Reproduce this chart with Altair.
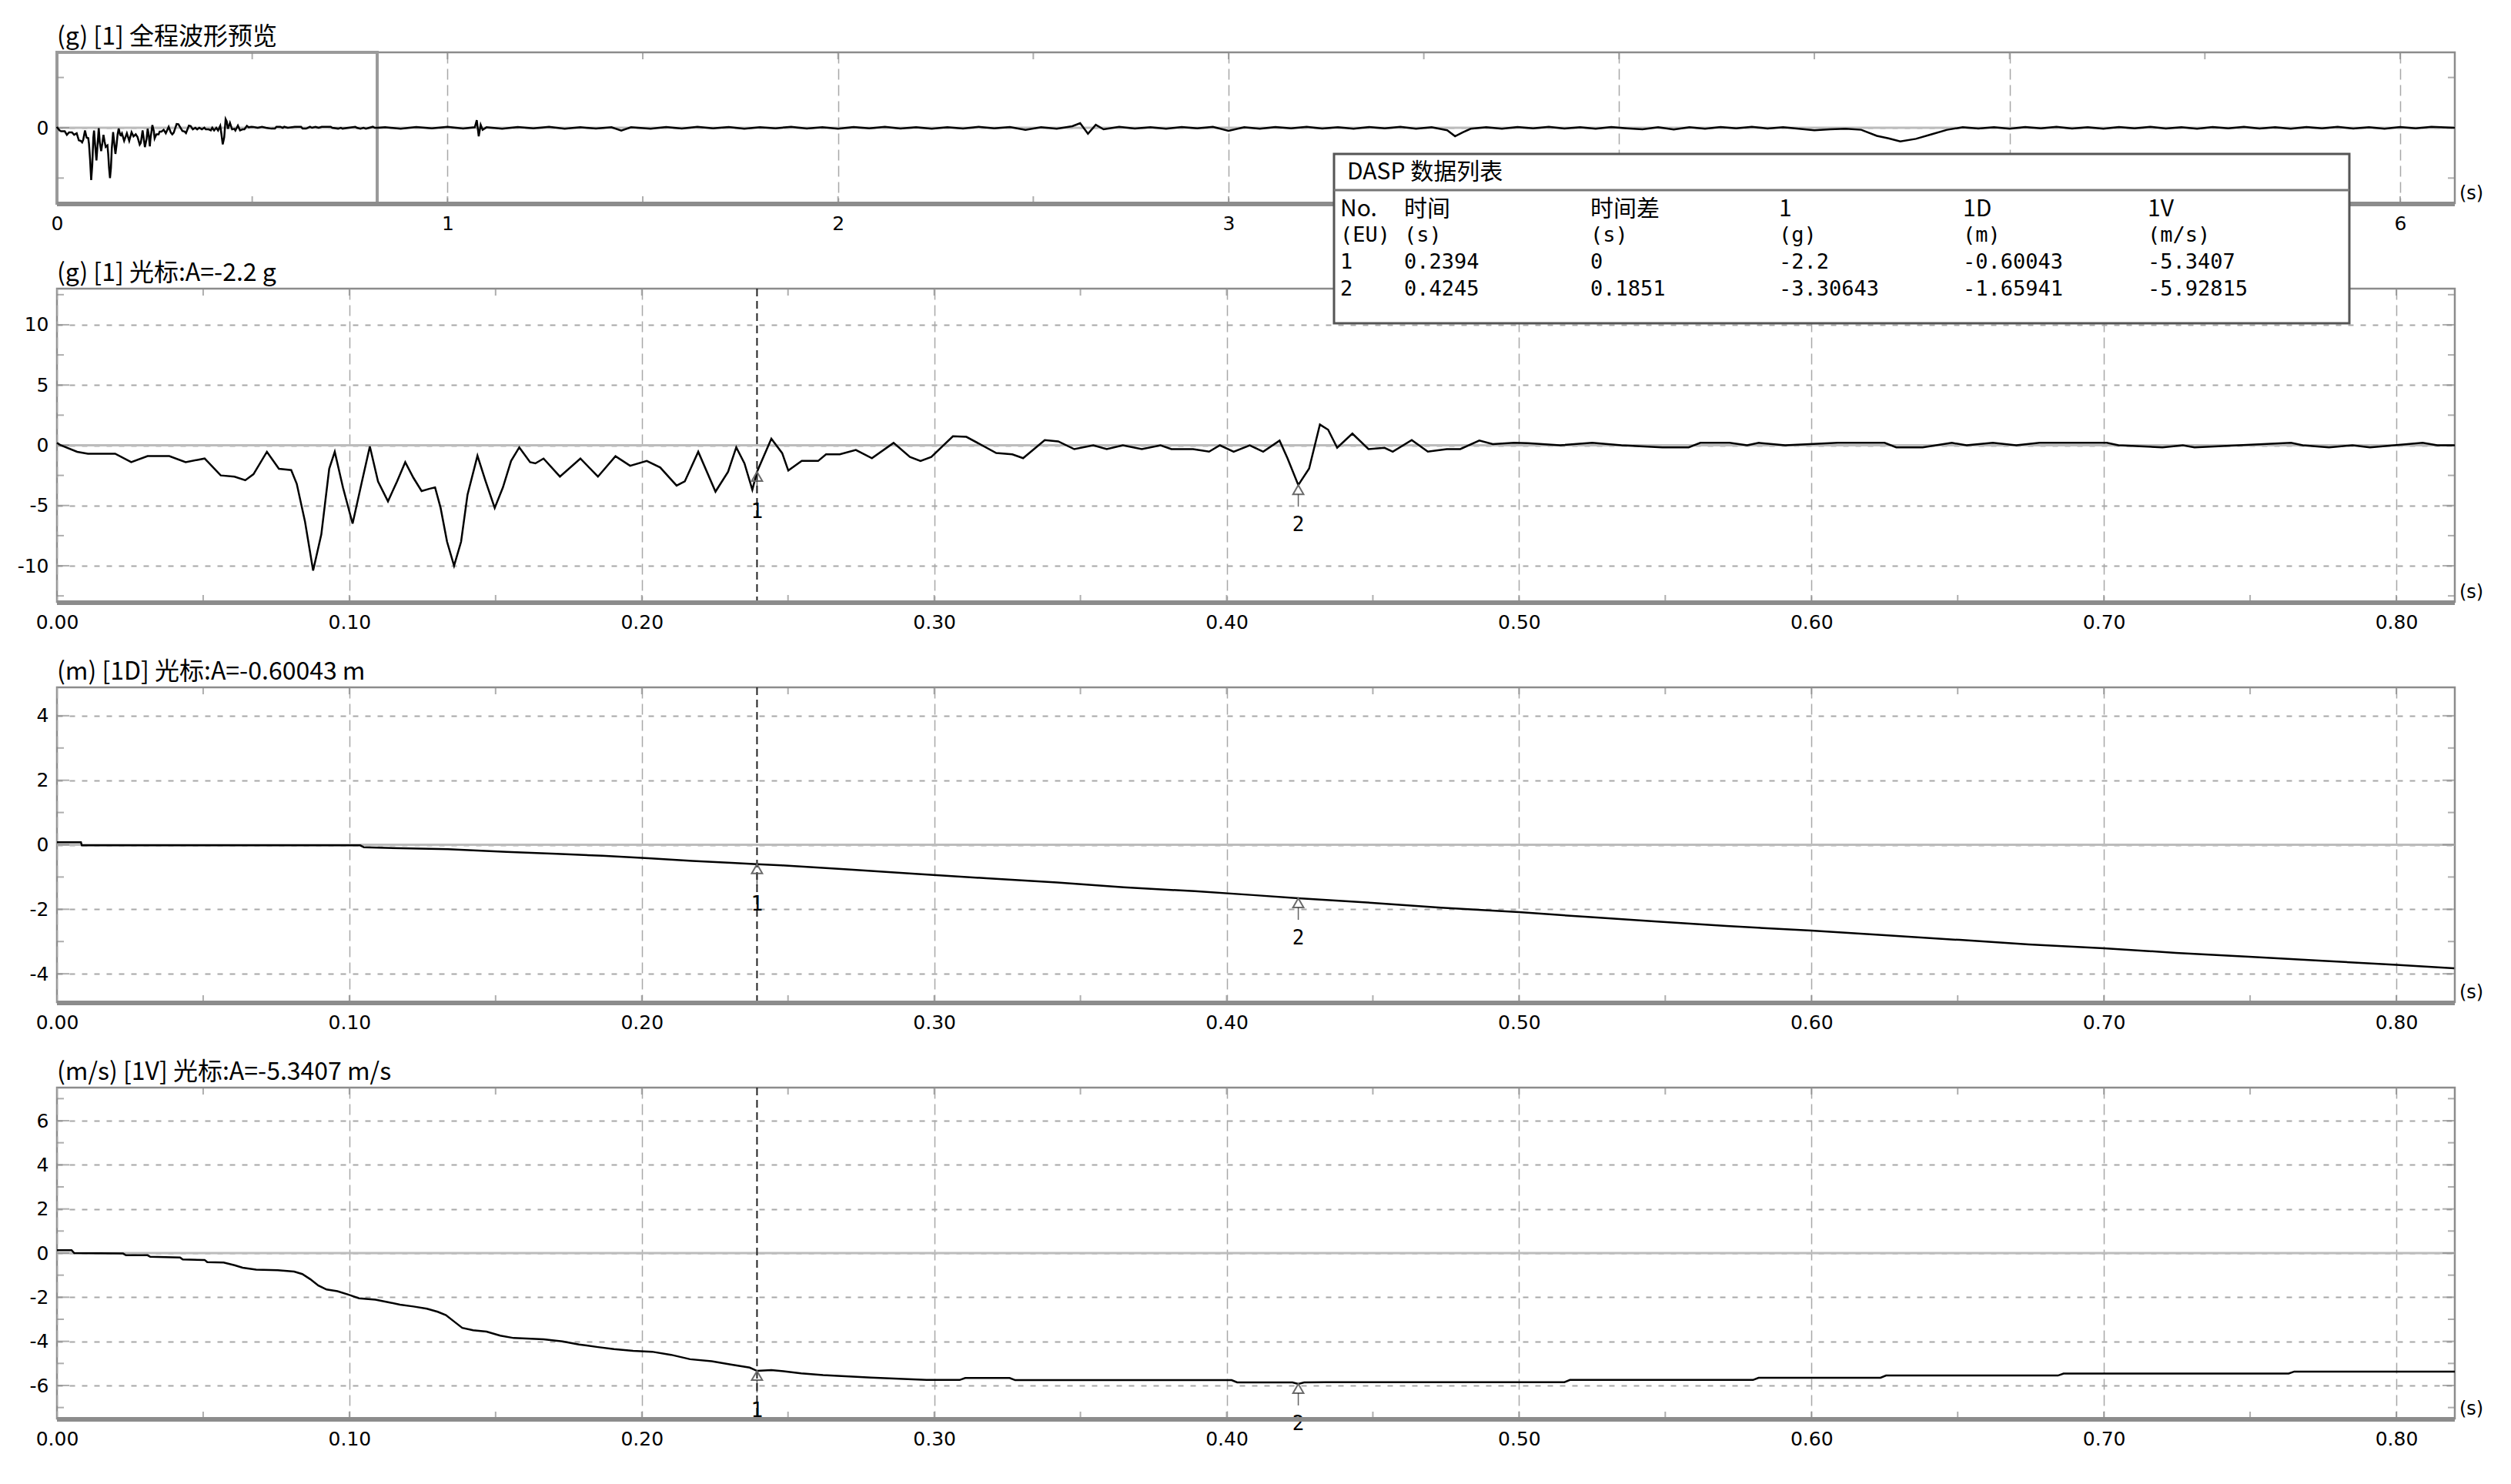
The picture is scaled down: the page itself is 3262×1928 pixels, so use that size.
import altair as alt
import pandas as pd

# ---------------- data ----------------
acc_t = [0.0, 0.0013, 0.0069, 0.0106, 0.0199, 0.0254, 0.031, 0.0384, 0.044, 0.0505, 0.056, 0.0607, 0.0644,
         0.0672, 0.0718, 0.0759, 0.0801, 0.082, 0.0848, 0.0876, 0.0904, 0.0931, 0.095, 0.0978, 0.1011, 0.1043,
         0.107, 0.1098, 0.1132, 0.1163, 0.1191, 0.1219, 0.1247, 0.1275, 0.1293, 0.1312, 0.1334, 0.1358, 0.1382,
         0.1404, 0.1438, 0.1466, 0.1497, 0.1525, 0.1553, 0.1581, 0.1618, 0.1636, 0.1664, 0.172, 0.179, 0.185,
         0.191, 0.196, 0.2017, 0.2063, 0.2119, 0.2147, 0.2193, 0.2252, 0.2295, 0.2323, 0.2351, 0.2378, 0.2394,
         0.2443, 0.248, 0.2501, 0.2547, 0.2603, 0.263, 0.2677, 0.2732, 0.2787, 0.2861, 0.2917, 0.2953, 0.299,
         0.3064, 0.311, 0.3212, 0.3267, 0.3304, 0.3378, 0.3424, 0.3479, 0.3544, 0.359, 0.3645, 0.371, 0.3774,
         0.3811, 0.3885, 0.394, 0.3977, 0.4024, 0.4079, 0.4125, 0.4181, 0.4208, 0.4245, 0.4282, 0.4319, 0.4347,
         0.4378, 0.443, 0.4485, 0.454, 0.4568, 0.4633, 0.4688, 0.4753, 0.4799, 0.4864, 0.491, 0.4983, 0.503,
         0.514, 0.525, 0.535, 0.549, 0.558, 0.562, 0.572, 0.578, 0.582, 0.591, 0.609, 0.625, 0.629, 0.638,
         0.648, 0.653, 0.662, 0.67, 0.678, 0.701, 0.705, 0.72, 0.727, 0.731, 0.764, 0.768, 0.777, 0.785,
         0.791, 0.809, 0.814, 0.82]
acc_v = [0.2, 0.0, -0.54, -0.7, -0.7, -1.4, -0.9, -0.9, -1.4, -1.1, -2.5, -2.6, -2.9,
         -2.4, -0.54, -1.95, -2.06, -3.2, -6.3, -10.4, -7.4, -1.95, -0.54, -3.5, -6.5, -3.0,
         -0.1, -3.0, -4.65, -3.0, -1.4, -2.7, -3.8, -3.6, -3.5, -5.2, -8.0, -10.0, -8.0,
         -4.1, -0.87, -3.0, -5.2, -3.5, -1.3, -0.17, -1.4, -1.5, -1.1, -2.6, -1.1, -2.6,
         -0.9, -1.7, -1.3, -1.84, -3.35, -3.0, -0.54, -3.85, -2.2, -0.17, -1.5, -3.7, -2.2,
         0.54, -0.65, -2.1, -1.3, -1.3, -0.75, -0.75, -0.39, -1.07, 0.2, -0.97, -1.3, -0.97,
         0.75, 0.7, -0.64, -0.75, -1.07, 0.43, 0.32, -0.32, 0.0, -0.32, 0.0, -0.32, 0.0,
         -0.32, -0.32, -0.53, 0.0, -0.53, 0.0, -0.53, 0.39, -1.07, -3.3, -1.93, 1.72, 1.29,
         -0.21, 0.97, -0.32, -0.21, -0.53, 0.43, -0.53, -0.32, -0.32, 0.39, 0.1, 0.2, 0.17,
         0.0, 0.2, 0.0, -0.17, -0.17, 0.2, 0.2, 0.0, 0.2, 0.0, 0.2, 0.2, -0.17, -0.17,
         0.2, 0.0, 0.2, 0.0, 0.2, 0.2, 0.0, -0.17, 0.0, -0.17, 0.2, 0.0, -0.17, 0.0,
         -0.17, 0.2, 0.0, 0.0]

prev_tail_t = [0.84, 0.88, 0.92, 0.96, 1.00, 1.04, 1.07, 1.075, 1.08, 1.085, 1.09, 1.10, 1.14, 1.18, 1.22,
               1.26, 1.30, 1.34, 1.38, 1.42, 1.445, 1.47, 1.52, 1.56, 1.60, 1.64, 1.68, 1.72, 1.76, 1.80,
               1.84, 1.88, 1.92, 1.96, 2.00, 2.04, 2.08, 2.12, 2.16, 2.20, 2.24, 2.28, 2.32, 2.36, 2.40,
               2.44, 2.48, 2.52, 2.56, 2.60, 2.62, 2.64, 2.66, 2.68, 2.72, 2.76, 2.80, 2.84, 2.88, 2.92,
               2.96, 3.00, 3.04, 3.08, 3.12, 3.16, 3.20, 3.24, 3.28, 3.32, 3.36, 3.40, 3.44, 3.48, 3.52,
               3.56, 3.58, 3.60, 3.62, 3.66, 3.70, 3.74, 3.78, 3.82, 3.86, 3.90, 3.94, 3.98, 4.02, 4.06,
               4.10, 4.14, 4.18, 4.22, 4.26, 4.30, 4.34, 4.38, 4.42, 4.46, 4.50, 4.54, 4.58, 4.62, 4.66,
               4.69, 4.72, 4.76, 4.80, 4.84, 4.88, 4.92, 4.96, 5.00, 5.04, 5.08, 5.12, 5.16, 5.20, 5.24,
               5.28, 5.32, 5.36, 5.40, 5.44, 5.48, 5.52, 5.56, 5.60, 5.64, 5.68, 5.72, 5.76, 5.80, 5.84,
               5.88, 5.92, 5.96, 6.00, 6.04, 6.08, 6.14]
prev_tail_v = [0.1, -0.2, 0.15, -0.1, 0.2, -0.15, 0.1, 1.5, -1.7, 0.6, -0.4, 0.1, -0.2, 0.15, -0.1,
               0.2, -0.2, 0.1, -0.15, 0.1, -0.55, 0.1, -0.2, 0.15, -0.15, 0.2, -0.1, 0.15, -0.2, 0.1,
               -0.1, 0.2, -0.15, 0.1, -0.2, 0.15, -0.1, 0.2, -0.15, 0.1, -0.2, 0.1, -0.15, 0.2, -0.1,
               0.15, -0.4, 0.1, -0.2, 0.3, 0.9, -1.2, 0.6, -0.3, 0.2, -0.15, 0.1, -0.2, 0.15, -0.1,
               0.2, -0.6, 0.1, -0.2, 0.15, -0.1, 0.2, -0.15, 0.1, -0.2, 0.15, -0.1, 0.2, -0.2, 0.1,
               -0.5, -1.7, -0.9, -0.2, 0.1, -0.2, 0.15, -0.1, 0.2, -0.15, 0.1, -0.2, 0.15, -0.1, -0.3,
               0.1, -0.35, 0.1, -0.2, 0.15, -0.1, 0.2, -0.15, 0.1, -0.2, -0.5, -0.3, -0.2, -0.4, -1.6,
               -2.1, -2.7, -2.2, -1.3, -0.4, 0.1, -0.15, 0.1, -0.2, 0.15, -0.1, 0.2, -0.15, 0.1, -0.2,
               0.15, -0.1, 0.2, -0.15, 0.1, -0.2, 0.15, -0.1, 0.2, -0.15, 0.1, -0.2, 0.15, -0.1, 0.2,
               -0.15, 0.1, -0.2, 0.15, -0.1, 0.2, 0.0]

disp_t = [0.0, 0.0082, 0.0085, 0.1037, 0.105, 0.1337, 0.1537, 0.1708, 0.1865, 0.2022, 0.2173, 0.2307,
          0.2394, 0.2478, 0.2693, 0.2935, 0.3178, 0.342, 0.3648, 0.3891, 0.4091, 0.4245, 0.4497, 0.4733,
          0.5, 0.5236, 0.5472, 0.5709, 0.6, 0.6241, 0.6507, 0.6743, 0.7, 0.7246, 0.7497, 0.7748, 0.8, 0.8198]
disp_v = [0.08, 0.08, -0.02, -0.02, -0.08, -0.14, -0.22, -0.28, -0.34, -0.42, -0.5, -0.56,
          -0.6, -0.64, -0.76, -0.9, -1.04, -1.17, -1.32, -1.44, -1.56, -1.66, -1.8, -1.95,
          -2.09, -2.24, -2.38, -2.52, -2.66, -2.8, -2.95, -3.09, -3.21, -3.35, -3.47, -3.6, -3.72, -3.83]

vel_t = [0.0, 0.005, 0.0059, 0.0226, 0.0236, 0.031, 0.0319, 0.0421, 0.043, 0.0505, 0.0514, 0.057, 0.0607,
         0.0635, 0.0681, 0.0755, 0.0811, 0.0839, 0.0866, 0.0894, 0.0922, 0.0959, 0.0996, 0.1033, 0.1089,
         0.1135, 0.1173, 0.1219, 0.1265, 0.1302, 0.133, 0.1358, 0.1386, 0.1423, 0.1469, 0.1516, 0.1562,
         0.1664, 0.1729, 0.1785, 0.185, 0.1905, 0.197, 0.2035, 0.21, 0.2165, 0.2239, 0.2304, 0.2369, 0.2394,
         0.2443, 0.249, 0.2545, 0.262, 0.2784, 0.2973, 0.3087, 0.3106, 0.3258, 0.3277, 0.4017, 0.4036,
         0.4225, 0.4245, 0.4265, 0.4339, 0.5155, 0.5174, 0.58, 0.5819, 0.6236, 0.6255, 0.6843, 0.6862,
         0.7632, 0.7651, 0.82]
vel_v = [0.13, 0.13, 0.0, -0.02, -0.1, -0.1, -0.17, -0.2, -0.29, -0.31, -0.41, -0.43, -0.55,
         -0.66, -0.75, -0.78, -0.84, -0.95, -1.18, -1.47, -1.65, -1.73, -1.88, -2.05, -2.11,
         -2.23, -2.34, -2.42, -2.52, -2.66, -2.81, -3.1, -3.39, -3.5, -3.56, -3.74, -3.85,
         -3.91, -4.0, -4.14, -4.26, -4.35, -4.43, -4.47, -4.61, -4.81, -4.9, -5.05, -5.19, -5.34,
         -5.3, -5.36, -5.45, -5.53, -5.64, -5.75, -5.75, -5.66, -5.66, -5.76, -5.76, -5.86,
         -5.86, -5.93, -5.86, -5.85, -5.85, -5.75, -5.75, -5.65, -5.65, -5.55, -5.55, -5.46,
         -5.46, -5.37, -5.37]

table_title = "DASP 数据列表"
table_headers = ["No.", "时间", "时间差", "1", "1D", "1V"]
table_units = ["(EU)", "(s)", "(s)", "(g)", "(m)", "(m/s)"]
table_rows = [["1", "0.2394", "0", "-2.2", "-0.60043", "-5.3407"],
              ["2", "0.4245", "0.1851", "-3.30643", "-1.65941", "-5.92815"]]

panel_titles = ["(g) [1] 全程波形预览", "(g) [1] 光标:A=-2.2 g",
                "(m) [1D] 光标:A=-0.60043 m", "(m/s) [1V] 光标:A=-5.3407 m/s"]

prev_xticks = [0, 1, 2, 3, 4, 5, 6]
prev_xlabels_hidden = [4, 5]          # covered by the data-list window in the reference
prev_xminor = [0.5, 1, 1.5, 2, 2.5, 3, 3.5, 4, 4.5, 5, 5.5, 6]
prev_yticks = [0]
prev_ymajor = [0]
prev_yminor = [-10, 10]
zoom_window = [0.0, 0.82]

t_ticks = [0.0, 0.1, 0.2, 0.3, 0.4, 0.5, 0.6, 0.7, 0.8]
t_minor = [0.05, 0.1, 0.15, 0.2, 0.25, 0.3, 0.35, 0.4, 0.45, 0.5, 0.55, 0.6, 0.65, 0.7, 0.75, 0.8]
acc_yticks = [-10, -5, 0, 5, 10]
acc_yminor = [-12.5, -7.5, -2.5, 2.5, 7.5, 12.5]
disp_yticks = [-4, -2, 0, 2, 4]
disp_yminor = [-3, -1, 1, 3]
vel_yticks = [-6, -4, -2, 0, 2, 4, 6]
vel_yminor = [-7, -5, -3, -1, 1, 3, 5, 7]

# ---------------- style / layout ----------------
FONT = "DejaVu Sans"
CJK = "Noto Sans CJK SC"
MONO = "DejaVu Sans Mono"
W = 3115
HEIGHTS = [196, 407, 409, 430]
SPACING = 111
BORDER = "#8c8c8c"
GRID = "#a8a8a8"

one = pd.DataFrame({"k": [0]})


def xenc(dom, axis=alt.Undefined):
    return alt.X("t:Q", scale=alt.Scale(domain=dom, nice=False, zero=False), axis=axis)


def yenc(dom, axis=alt.Undefined):
    return alt.Y("v:Q", scale=alt.Scale(domain=dom, nice=False, zero=False), axis=axis)


def make_panel(line_df, xdom, ydom, xvals, xfmt, xminor, yvals, yminor, H, title,
               cursor_df=None, marker_df=None, line_width=2.5, window=None, extra=None,
               hidden_labels=None):
    label_expr = f"format(datum.value, '{xfmt}')"
    if hidden_labels:
        label_expr = f"indexof({list(hidden_labels)}, datum.value) >= 0 ? '' : " + label_expr
    xaxis = alt.Axis(values=xvals, labelExpr=label_expr, grid=True,
                     gridDash=[14, 7], gridColor=GRID, gridWidth=1.5,
                     domain=False, ticks=False, labelFont=FONT, labelFontSize=25, labelColor="#000",
                     labelPadding=14, title=None, labelFlush=False, labelOverlap=False)
    yaxis = alt.Axis(values=yvals, labelExpr="'' + datum.value", grid=True, gridDash=[7, 9],
                     gridColor=GRID, gridWidth=2, domain=False, ticks=False, labelFont=FONT,
                     labelFontSize=25, labelColor="#000", labelPadding=11, title=None,
                     labelFlush=False, labelOverlap=False)
    layers = []
    # first layer carries the axes (explicit properties win when axes are merged)
    layers.append(alt.Chart(line_df).mark_line(strokeOpacity=0)
                  .encode(x=xenc(xdom, xaxis), y=yenc(ydom, yaxis)))
    # zero line
    layers.append(alt.Chart(pd.DataFrame({"v": [0]})).mark_rule(
        color="#bcbcbc", strokeWidth=3).encode(y=yenc(ydom)))
    if window is not None:
        layers.append(alt.Chart(pd.DataFrame({"t": [window[0]], "t2": [window[1]]})).mark_rect(
            fillOpacity=0, stroke="#9a9a9a", strokeWidth=4).encode(
            x=xenc(xdom), x2="t2:Q", y=alt.value(0), y2=alt.value(H)))
    # inward ticks on the frame
    xm = pd.DataFrame({"t": xminor})
    ymaj = pd.DataFrame({"v": yvals})
    ym = pd.DataFrame({"v": yminor})
    layers.append(alt.Chart(xm).mark_tick(orient="vertical", size=9, thickness=2, color=BORDER)
                  .encode(x=xenc(xdom), y=alt.value(4.5)))
    layers.append(alt.Chart(xm).mark_tick(orient="vertical", size=9, thickness=2, color=BORDER)
                  .encode(x=xenc(xdom), y=alt.value(H - 4.5)))
    for frame, L in ((ymaj, 16), (ym, 9)):
        layers.append(alt.Chart(frame).mark_tick(orient="horizontal", size=L, thickness=2, color=BORDER)
                      .encode(y=yenc(ydom), x=alt.value(L / 2)))
        layers.append(alt.Chart(frame).mark_tick(orient="horizontal", size=L, thickness=2, color=BORDER)
                      .encode(y=yenc(ydom), x=alt.value(W - L / 2)))
    if cursor_df is not None:
        layers.append(alt.Chart(cursor_df).mark_rule(color="#222", strokeWidth=2, strokeDash=[10, 6])
                      .encode(x=xenc(xdom)))
    # data line
    layers.append(alt.Chart(line_df).mark_line(color="#000", strokeWidth=line_width)
                  .encode(x=xenc(xdom), y=yenc(ydom)))
    if marker_df is not None:
        layers.append(alt.Chart(marker_df).mark_point(shape="triangle-up", filled=False, size=190,
                                                       color="#6a6a6a", strokeWidth=2, opacity=1,
                                                       yOffset=6)
                      .encode(x=xenc(xdom), y=yenc(ydom)))
        layers.append(alt.Chart(marker_df).mark_tick(orient="vertical", size=16, thickness=1.5,
                                                      color="#222", yOffset=20)
                      .encode(x=xenc(xdom), y=yenc(ydom)))
        layers.append(alt.Chart(marker_df).mark_text(dy=52, font=MONO, fontSize=26, color="#000")
                      .encode(x=xenc(xdom), y=yenc(ydom), text="n:N"))
    # thick bottom border
    layers.append(alt.Chart(one).mark_rule(color=BORDER, strokeWidth=6).encode(y=alt.value(H + 1)))
    # panel title and unit label
    layers.append(alt.Chart(one).mark_text(align="left", baseline="middle", font=CJK, fontSize=32,
                                           color="#000")
                  .encode(x=alt.value(0), y=alt.value(-20), text=alt.value(title)))
    layers.append(alt.Chart(one).mark_text(align="left", baseline="middle", font=FONT, fontSize=24,
                                           color="#000")
                  .encode(x=alt.value(W + 6), y=alt.value(H - 12), text=alt.value("(s)")))
    if extra:
        layers.extend(extra)
    return alt.layer(*layers).properties(width=W, height=H)


# marker tables from the DASP list
cursor_no = [r[0] for r in table_rows]
cursor_t = [float(r[1]) for r in table_rows]
cursor_acc = [float(r[3]) for r in table_rows]
cursor_disp = [float(r[4]) for r in table_rows]
cursor_vel = [float(r[5]) for r in table_rows]
cursor_line = pd.DataFrame({"t": [cursor_t[0]]})

acc_df = pd.DataFrame({"t": acc_t, "v": acc_v})
prev_df = pd.DataFrame({"t": acc_t + prev_tail_t, "v": acc_v + prev_tail_v})
disp_df = pd.DataFrame({"t": disp_t, "v": disp_v})
vel_df = pd.DataFrame({"t": vel_t, "v": vel_v})

# invisible anchor fixing the page offset of the first plot area
anchor = alt.Chart(one).mark_rect(opacity=0).encode(
    x=alt.value(-64), x2=alt.value(-60), y=alt.value(-58), y2=alt.value(-54))

p1 = make_panel(prev_df, [0, 6.14], [-15, 15], prev_xticks, "d", prev_xminor,
                prev_yticks, prev_yminor, HEIGHTS[0], panel_titles[0], line_width=2.5,
                window=zoom_window, extra=[anchor], hidden_labels=prev_xlabels_hidden)

# DASP table drawn on top (in the second panel's coordinates)
BOX_L, BOX_R, BOX_T, BOX_B = 1659, 2978, -175, 45
COL_X = [1667, 1750, 1992, 2237, 2476, 2716]
table_layers = [
    alt.Chart(one).mark_rect(fill="white", stroke="#555", strokeWidth=3).encode(
        x=alt.value(BOX_L), x2=alt.value(BOX_R), y=alt.value(BOX_T), y2=alt.value(BOX_B)),
    alt.Chart(one).mark_rule(color="#777", strokeWidth=3).encode(
        x=alt.value(BOX_L), x2=alt.value(BOX_R), y=alt.value(-128)),
    alt.Chart(one).mark_text(align="left", baseline="middle", font=CJK, fontSize=30, color="#000")
    .encode(x=alt.value(1676), y=alt.value(-151), text=alt.value(table_title)),
]
for i, cx in enumerate(COL_X):
    table_layers.append(
        alt.Chart(one).mark_text(align="left", baseline="middle", font=CJK, fontSize=30, color="#000")
        .encode(x=alt.value(cx), y=alt.value(-103), text=alt.value(table_headers[i])))
    body = "\n".join([table_units[i]] + [r[i] for r in table_rows])
    table_layers.append(
        alt.Chart(one).mark_text(align="left", baseline="top", font=MONO, fontSize=27, color="#000",
                                 lineHeight=35, lineBreak="\n")
        .encode(x=alt.value(cx), y=alt.value(-82), text=alt.value(body)))

acc_markers = pd.DataFrame({"t": cursor_t, "v": cursor_acc, "n": cursor_no})
disp_markers = pd.DataFrame({"t": cursor_t, "v": cursor_disp, "n": cursor_no})
vel_markers = pd.DataFrame({"t": cursor_t, "v": cursor_vel, "n": cursor_no})

XD = [0, 0.82]
p2 = make_panel(acc_df, XD, [-13, 13], t_ticks, ".2f", t_minor, acc_yticks, acc_yminor,
                HEIGHTS[1], panel_titles[1], cursor_df=cursor_line, marker_df=acc_markers,
                extra=table_layers)
p3 = make_panel(disp_df, XD, [-4.88, 4.88], t_ticks, ".2f", t_minor, disp_yticks,
                disp_yminor, HEIGHTS[2], panel_titles[2], cursor_df=cursor_line, marker_df=disp_markers)
p4 = make_panel(vel_df, XD, [-7.5, 7.5], t_ticks, ".2f", t_minor, vel_yticks, vel_yminor,
                HEIGHTS[3], panel_titles[3], cursor_df=cursor_line, marker_df=vel_markers)

chart = alt.vconcat(p1, p2, p3, p4, spacing=SPACING, bounds="flush").properties(
    padding=0, background="white"
).configure_view(stroke=BORDER, strokeWidth=2.5)

chart.save("out.html", embed_options={"renderer": "svg", "actions": False})
